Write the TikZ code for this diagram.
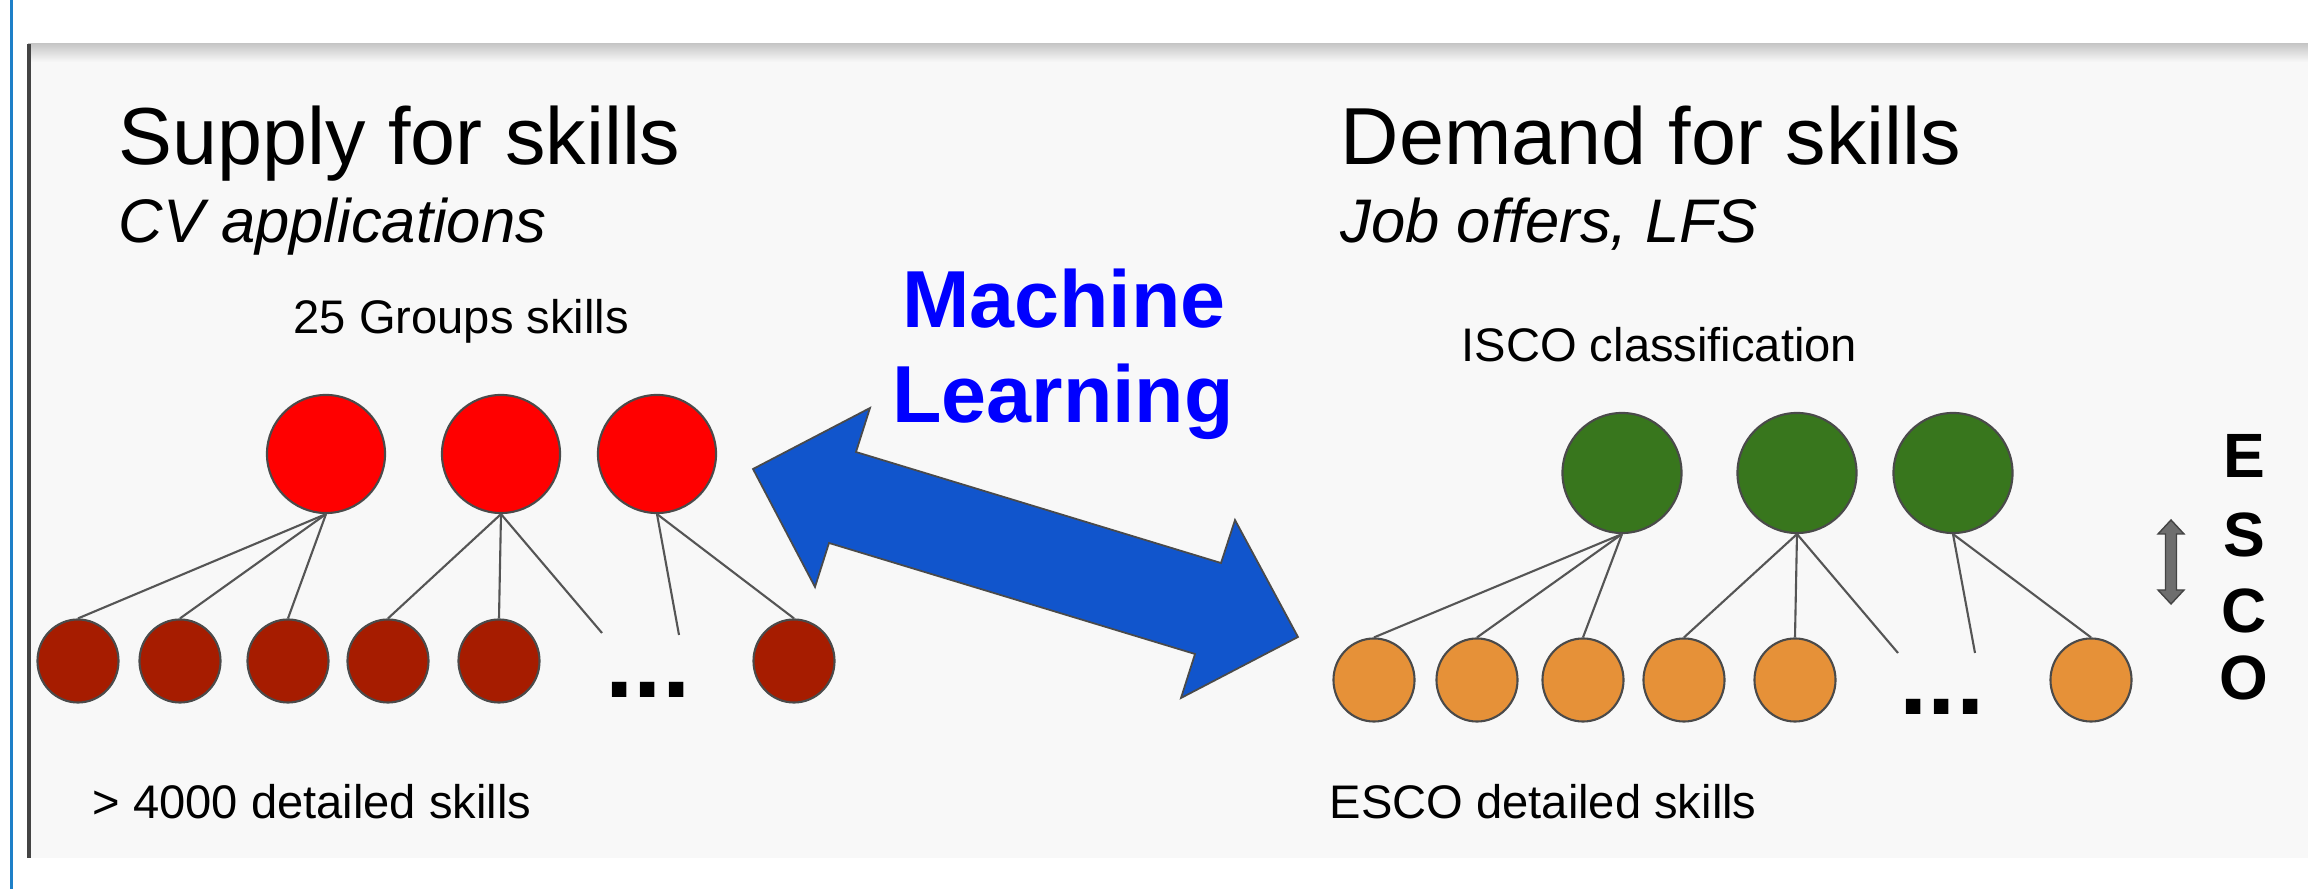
\documentclass[tikz,border=0pt]{standalone}
\usepackage{fontspec}
\setmainfont{Liberation Sans}
\usetikzlibrary{shapes.geometric}
\definecolor{panelbg}{HTML}{F8F8F8}
\definecolor{edgeblue}{HTML}{1E80C8}
\definecolor{bordergray}{HTML}{444444}
\definecolor{topred}{HTML}{FF0000}
\definecolor{leafred}{HTML}{A61C00}
\definecolor{topgreen}{HTML}{38761D}
\definecolor{leaforange}{HTML}{E69138}
\definecolor{mlblue}{HTML}{1155CC}
\definecolor{outlinegray}{HTML}{4A4A4A}
\definecolor{linegray}{HTML}{555555}
\definecolor{textblue}{HTML}{0000FF}
\definecolor{arrowgray}{HTML}{6E6E6E}
\begin{document}
\begin{tikzpicture}[x=0.01cm,y=-0.01cm,
  bubble/.style={ellipse,inner sep=0pt,draw=outlinegray,line width=0.6pt},
  topnode/.style={bubble,minimum width=1.18cm,minimum height=1.18cm},
  leafnode/.style={bubble,minimum width=0.81cm,minimum height=0.83cm},
  treeline/.style={draw=linegray,line width=0.6pt},
  title/.style={anchor=base west,inner sep=0pt,font=\fontsize{23}{27}\selectfont},
  subtitle/.style={anchor=base west,inner sep=0pt,font=\fontsize{17.5}{21}\selectfont\itshape},
  label/.style={anchor=base west,inner sep=0pt,font=\fontsize{13.4}{16}\selectfont},
  mltext/.style={anchor=base,inner sep=0pt,text=textblue,font=\fontsize{23}{27}\selectfont\bfseries},
  escoletter/.style={anchor=base,inner sep=0pt,font=\fontsize{17.8}{21}\selectfont\bfseries},
  dotstext/.style={anchor=base,inner sep=0pt,font=\fontsize{29}{32}\selectfont\bfseries}
]
% canvas and panel
\fill[white] (0,0) rectangle (2308,889);
\fill[panelbg] (28,44) rectangle (2308,858);
\shade[top color=black!22,bottom color=panelbg] (28,44) rectangle (2308,62);
\fill[bordergray] (27,44) rectangle (31,858);
\fill[edgeblue] (10,0) rectangle (12.5,889);

% left texts
\node[title] (supply) at (118,165) {Supply for skills};
\node[subtitle] (cv) at (118,243) {CV applications};
\node[label] (groups) at (293,334) {25 Groups skills};
\node[label] (detail) at (92,819) {> 4000 detailed skills};

% right texts
\node[title] (demand) at (1340,165) {Demand for skills};
\node[subtitle] (jobs) at (1340,243) {Job offers, LFS};
\node[label] (isco) at (1461,362) {ISCO classification};
\node[label] (escodet) at (1329,819) {ESCO detailed skills};

% Machine learning
\node[mltext] (mach) at (1064,328) {Machine};
\node[mltext] (learn) at (1063,423) {Learning};

% big double arrow
\filldraw[fill=mlblue,draw=outlinegray,line width=0.5pt]
  (753,469) -- (870,408) -- (856,452) -- (1221,563) -- (1235,520)
  -- (1298,637) -- (1181,698) -- (1195,654) -- (829,543) -- (815,587) -- cycle;

% left tree
\node[topnode,fill=topred] (c1) at (326,454) {};
\node[topnode,fill=topred] (c2) at (501,454) {};
\node[topnode,fill=topred] (c3) at (657,454) {};
\node[leafnode,fill=leafred] (d1) at (78,661) {};
\node[leafnode,fill=leafred] (d2) at (180,661) {};
\node[leafnode,fill=leafred] (d3) at (288,661) {};
\node[leafnode,fill=leafred] (d4) at (388,661) {};
\node[leafnode,fill=leafred] (d5) at (499,661) {};
\node[leafnode,fill=leafred] (d7) at (794,661) {};
\node[dotstext] (ldots) at (648,698) {...};
\coordinate (lfree1) at (602,633);
\coordinate (lfree2) at (679,635);
\draw[treeline] (c1.south) -- (d1.north);
\draw[treeline] (c1.south) -- (d2.north);
\draw[treeline] (c1.south) -- (d3.north);
\draw[treeline] (c2.south) -- (d4.north);
\draw[treeline] (c2.south) -- (d5.north);
\draw[treeline] (c2.south) -- (lfree1);
\draw[treeline] (c3.south) -- (lfree2);
\draw[treeline] (c3.south) -- (d7.north);

% right tree
\node[topnode,fill=topgreen,minimum width=1.19cm,minimum height=1.20cm] (g1) at (1622,473) {};
\node[topnode,fill=topgreen,minimum width=1.19cm,minimum height=1.20cm] (g2) at (1797,473) {};
\node[topnode,fill=topgreen,minimum width=1.19cm,minimum height=1.20cm] (g3) at (1953,473) {};
\node[leafnode,fill=leaforange] (o1) at (1374,680) {};
\node[leafnode,fill=leaforange] (o2) at (1477,680) {};
\node[leafnode,fill=leaforange] (o3) at (1583,680) {};
\node[leafnode,fill=leaforange] (o4) at (1684,680) {};
\node[leafnode,fill=leaforange] (o5) at (1795,680) {};
\node[leafnode,fill=leaforange] (o7) at (2091,680) {};
\node[dotstext] (rdots) at (1942,715) {...};
\coordinate (rfree1) at (1898,653);
\coordinate (rfree2) at (1975,653);
\draw[treeline] (g1.south) -- (o1.north);
\draw[treeline] (g1.south) -- (o2.north);
\draw[treeline] (g1.south) -- (o3.north);
\draw[treeline] (g2.south) -- (o4.north);
\draw[treeline] (g2.south) -- (o5.north);
\draw[treeline] (g2.south) -- (rfree1);
\draw[treeline] (g3.south) -- (rfree2);
\draw[treeline] (g3.south) -- (o7.north);

% ESCO vertical arrow and letters
\filldraw[fill=arrowgray,draw=bordergray,line width=0.4pt]
  (2171,520) -- (2184,534) -- (2176.5,534) -- (2176.5,590) -- (2184,590)
  -- (2171,604) -- (2158,590) -- (2165.5,590) -- (2165.5,534) -- (2158,534) -- cycle;
\node[escoletter] (eE) at (2244,478) {E};
\node[escoletter] (eS) at (2244,557) {S};
\node[escoletter] (eC) at (2244,633) {C};
\node[escoletter] (eO) at (2244,700) {O};
\end{tikzpicture}
\end{document}
